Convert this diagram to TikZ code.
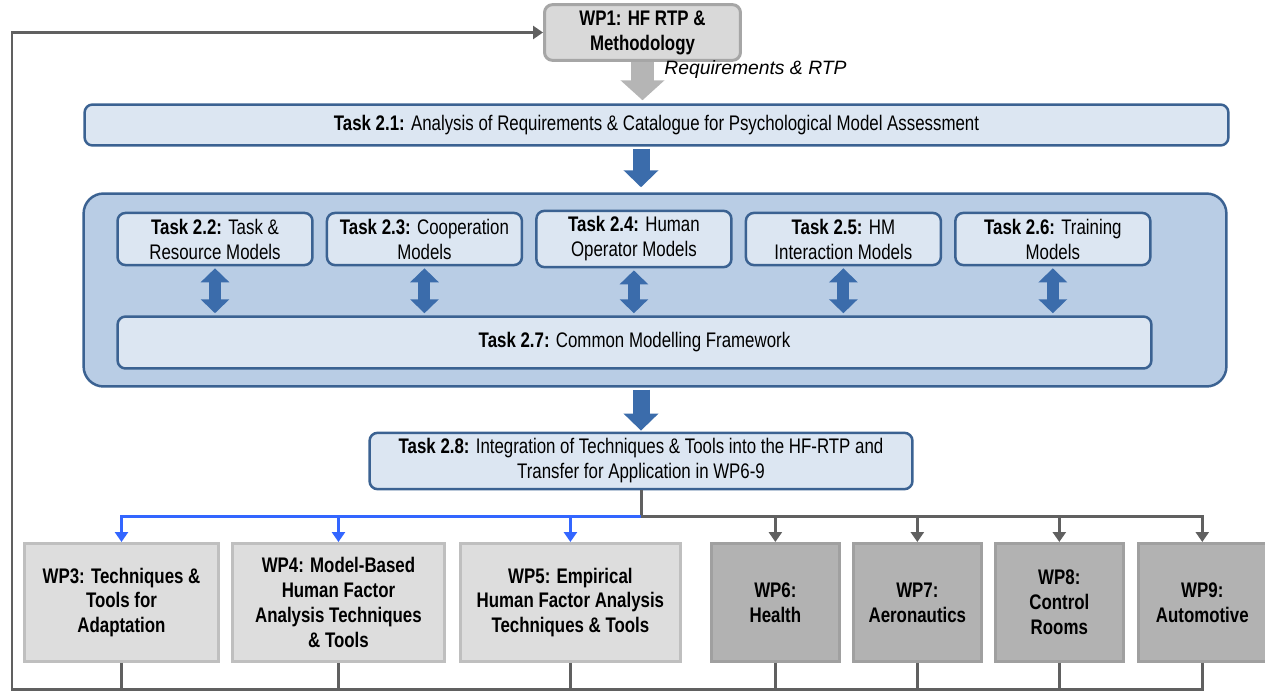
\documentclass[tikz,border=0pt]{standalone}
\usepackage{fontspec}
\setmainfont{Liberation Sans}[FakeStretch=0.8]
\newfontfamily\reqfont{Liberation Sans}
\usepackage{tikz}
\usetikzlibrary{arrows.meta,positioning}
\newcommand{\taskfont}{\fontsize{12}{14.2}\selectfont}
\definecolor{taskfill}{HTML}{DCE6F2}
\definecolor{taskline}{HTML}{3B6292}
\definecolor{containerfill}{HTML}{B9CDE5}
\definecolor{wponefill}{HTML}{D9D9D9}
\definecolor{wponeline}{HTML}{A6A6A6}
\definecolor{methodfill}{HTML}{DDDDDD}
\definecolor{methodline}{HTML}{BFBFBF}
\definecolor{appfill}{HTML}{B2B2B2}
\definecolor{appline}{HTML}{A0A0A0}
\definecolor{linkgray}{HTML}{606060}
\definecolor{linkblue}{HTML}{3366FF}
\definecolor{flowblue}{HTML}{3B6CAB}
\definecolor{reqgray}{HTML}{B5B5B5}
\tikzstyle{wpmain}=[rectangle,rounded corners=0.16cm,draw=wponeline,fill=wponefill,
line width=0.06cm,align=center,font=\bfseries\taskfont,minimum width=3.92cm,minimum height=1.04cm]
\tikzstyle{task}=[rectangle,rounded corners=0.16cm,draw=taskline,fill=taskfill,
line width=0.05cm,align=center,font=\taskfont]
\tikzstyle{subtask}=[task,minimum width=3.9cm,minimum height=1.02cm]
\tikzstyle{container}=[rectangle,rounded corners=0.4cm,draw=taskline,fill=containerfill,
line width=0.05cm,minimum width=22.86cm,minimum height=3.86cm]
\tikzstyle{wpmethod}=[rectangle,draw=methodline,fill=methodfill,line width=0.06cm,
align=center,font=\bfseries\taskfont,minimum height=2.36cm]
\tikzstyle{wpapp}=[wpmethod,draw=appline,fill=appfill,minimum width=2.56cm]
\tikzstyle{backline}=[draw=linkgray,line width=0.06cm]
\tikzstyle{blueline}=[draw=linkblue,line width=0.06cm]
\tikzstyle{smalltip}=[-{Triangle[length=0.2cm,width=0.26cm]}]
\tikzstyle{reqarrow}=[draw=reqgray,line width=0.46cm,-{Triangle[length=0.4cm,width=0.86cm]}]
\tikzstyle{flowarrow}=[draw=flowblue,line width=0.34cm,-{Triangle[length=0.34cm,width=0.68cm]}]
\tikzstyle{twoway}=[draw=flowblue,line width=0.24cm,
{Triangle[length=0.28cm,width=0.56cm]}-{Triangle[length=0.28cm,width=0.56cm]}]

\begin{document}
\begin{tikzpicture}[x=0.02cm,y=-0.02cm]
            \useasboundingbox (0,0) rectangle (1265,693);

            % WP1 and Task 2.1

            \node[wpmain] (wp1) at (642.5,32.5) {WP1: HF RTP \&\\Methodology};
            \node[task,minimum width=22.88cm,minimum height=0.82cm] (t21) at (656.5,125)
                {\textbf{Task 2.1:} Analysis of Requirements \& Catalogue for Psychological Model Assessment};
            \node[anchor=west,font=\reqfont\itshape\fontsize{11}{13}\selectfont,inner sep=0pt] (req) at (664,70) {Requirements \& RTP};

            \draw[reqarrow,shorten >=0.06cm] (wp1.south) -- (wp1.south |- t21.north);

            % Modelling PART

            \node[container] (models) at (655,290) {};
            \node[subtask] (t22) at (215,239) {\textbf{Task 2.2:} Task \&\\Resource Models};
            \node[subtask,right=0.24cm of t22] (t23) {\textbf{Task 2.3:} Cooperation\\Models};
            \node[subtask,right=0.24cm of t23] (t24) {\textbf{Task 2.4:} Human\\Operator Models};
            \node[subtask,right=0.24cm of t24] (t25) {\textbf{Task 2.5:} HM\\Interaction Models};
            \node[subtask,right=0.24cm of t25] (t26) {\textbf{Task 2.6:} Training\\Models};
            \node[task,minimum width=20.68cm,minimum height=1.04cm] (t27) at (634.5,342.5)
                {\textbf{Task 2.7:} Common Modelling Framework};

            \foreach \t in {t22,t23,t24,t25,t26}
                \draw[twoway,shorten <=0.04cm,shorten >=0.04cm] (\t.south) -- (\t.south |- t27.north);

            % Task 2.8

            \node[task,minimum width=10.86cm,minimum height=1.06cm] (t28) at (641,461)
                {\textbf{Task 2.8:} Integration of Techniques \& Tools into the HF-RTP and\\Transfer for Application in WP6-9};

            \draw[flowarrow,shorten <=0.04cm,shorten >=0.1cm] (t21.south -| t28.north) -- (models.north -| t28.north);
            \draw[flowarrow,shorten <=0.04cm,shorten >=0.02cm] (models.south -| t28.north) -- (t28.north);

            % WP3-9 PART

            \node[wpmethod,minimum width=3.88cm] (wp3) at (121.5,602.5) {WP3: Techniques \&\\Tools for\\Adaptation};
            \node[wpmethod,minimum width=4.24cm,right=0.22cm of wp3] (wp4) {WP4: Model-Based\\Human Factor\\Analysis Techniques\\\& Tools};
            \node[wpmethod,minimum width=4.4cm,right=0.26cm of wp4] (wp5) {WP5: Empirical\\Human Factor Analysis\\Techniques \& Tools};
            \node[wpapp,right=0.56cm of wp5] (wp6) {WP6:\\Health};
            \node[wpapp,right=0.22cm of wp6] (wp7) {WP7:\\Aeronautics};
            \node[wpapp,right=0.22cm of wp7] (wp8) {WP8:\\Control\\Rooms};
            \node[wpapp,right=0.24cm of wp8] (wp9) {WP9:\\Automotive};

            \coordinate (split) at (641,516);
            \draw[backline] (t28.south) -- (split);
            \foreach \w in {wp3,wp4,wp5}
                \draw[blueline,smalltip] (split) -| (\w.north);
            \foreach \w in {wp6,wp7,wp8,wp9}
                \draw[backline,smalltip] (split) -| (\w.north);

            % Feedback to WP1

            \coordinate (corner) at (12,689);
            \foreach \w in {wp3,wp4,wp5,wp6,wp7,wp8}
                \draw[backline] (\w.south) -- (\w.south |- corner);
            \draw[backline,smalltip] (wp9.south) |- (corner) |- (wp1.west);

\end{tikzpicture}
\end{document}
